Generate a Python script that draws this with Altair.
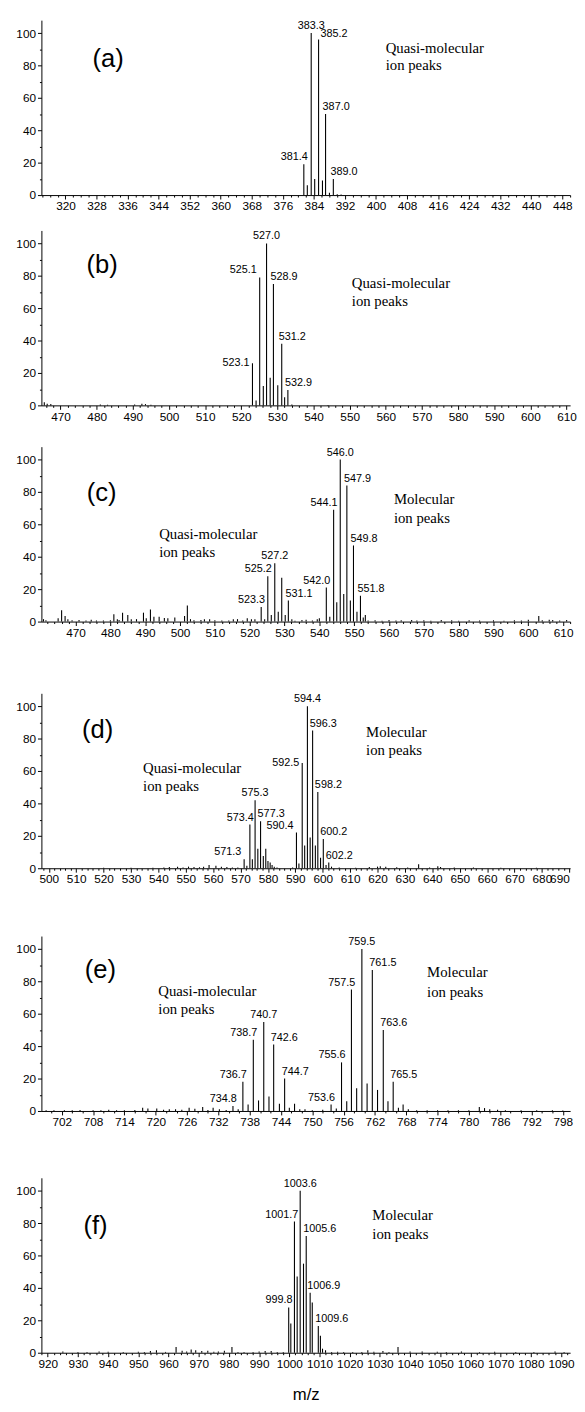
import altair as alt
import pandas as pd
import numpy as np

FONT = "Liberation Sans"
SERIF = "Liberation Serif"

# ---------------- panel (a) ----------------
a_mz = [381.4, 382.3, 383.3, 384.2, 385.2, 386.2, 387.0, 388.0, 389.0, 390.0, 391.0]
a_int = [19, 6, 100, 10, 96, 9, 50, 1.5, 10, 0.5, 0.3]
a_lab_mz = [381.4, 383.3, 385.2, 387.0, 389.0]
a_lab_pos = ["e", "c", "R", "s", "s"]
a_ann_text = ["(a)", "Quasi-molecular", "ion peaks"]
a_ann_x = [331, 402.5, 402.5]
a_ann_y = [84, 91, 80]
a_ann_kind = ["letter", "caption", "caption"]
a_xdom = [313.8, 450.0]

# ---------------- panel (b) ----------------
b_mz = [465.5, 466.3, 467.3, 481.0, 483.0, 490.5, 492.5, 493.5, 495.0,
        523.1, 524.1, 525.1, 526.1, 527.0, 528.0, 528.9, 530.1, 531.2, 532.0, 532.9, 534.0, 544.0]
b_int = [2, 1, 0.8, 0.6, 0.4, 0.6, 1.0, 0.8, 0.4,
         26, 3, 79, 12, 100, 17, 75, 12.5, 38, 5, 9.5, 0.5, 0.3]
b_lab_mz = [523.1, 525.1, 527.0, 528.9, 531.2, 532.9]
b_lab_pos = ["Lm", "L", "c", "s", "s", "s"]
b_ann_text = ["(b)", "Quasi-molecular", "ion peaks"]
b_ann_x = [481.5, 550.6, 550.6]
b_ann_y = [86.5, 75.5, 64.4]
b_ann_kind = ["letter", "caption", "caption"]
b_xdom = [464.7, 611.0]

# ---------------- panel (c) ----------------
c_mz = [460.8, 461.5, 465.0, 466.0, 467.0, 467.8, 469.0, 471.0, 473.0, 474.5, 476.0, 478.0, 480.0,
        481.0, 482.0, 482.5, 483.5, 485.0, 486.0, 487.5, 489.5, 490.3, 491.5, 492.5, 494.0, 495.5,
        496.5, 498.5, 501.3, 502.1, 503.0, 504.0, 506.0, 507.0, 508.5, 510.0, 512.0, 514.0, 515.3,
        516.5, 518.0, 519.3, 520.5, 521.5,
        523.3, 524.3, 525.2, 526.2, 527.2, 528.2, 529.2, 530.2, 531.1, 532.1, 533.0,
        535.0, 536.2, 538.0, 539.4, 540.0,
        542.0, 543.0, 544.1, 545.0, 546.0, 547.0, 547.9, 548.9, 549.8, 550.8, 551.8, 552.6, 553.2,
        554.0, 556.0, 558.0, 560.0, 562.0, 563.5, 566.5, 568.0, 570.0, 572.0, 575.0, 578.0, 580.0,
        583.0, 586.0, 590.0, 593.0, 596.0, 598.0, 600.0, 603.0, 604.0, 606.0, 607.0, 609.0, 611.0]
c_int = [1.5, 0.8, 2, 7, 3.5, 1.5, 0.8, 1, 0.6, 1.2, 0.7, 0.6, 0.8,
         4.5, 1.5, 1.0, 5.5, 4, 1.5, 1.5, 5.5, 2, 7.5, 3, 3, 2.2,
         2, 2.5, 3.5, 10, 1.5, 0.8, 1, 1.5, 1.5, 0.8, 0.6, 0.6, 1.5,
         1.5, 0.7, 2, 1.5, 1.5,
         9, 1.5, 28, 4, 36, 6, 27, 4, 13, 1.5, 0.5,
         1, 1.2, 0.6, 1.5, 2,
         21, 3, 69, 12, 100, 17, 84, 13, 47, 6, 16, 2.5, 4,
         0.6, 0.8, 0.5, 1, 0.6, 0.8, 1, 0.6, 0.8, 0.5, 1, 0.8, 0.5,
         0.8, 0.6, 0.8, 0.5, 0.8, 0.6, 1.2, 3.5, 0.8, 1.2, 1, 0.6, 1]
c_lab_mz = [523.3, 525.2, 527.2, 531.1, 542.0, 544.1, 546.0, 547.9, 549.8, 551.8]
c_lab_pos = ["e", "e", "c", "s", "e", "e", "c", "s", "s", "s"]
c_ann_text = ["(c)", "Quasi-molecular", "ion peaks", "Molecular", "ion peaks"]
c_ann_x = [477.5, 494.0, 494.0, 561.4, 561.4]
c_ann_y = [79, 54, 43, 75.6, 64]
c_ann_kind = ["letter", "caption", "caption", "caption", "caption"]
c_xdom = [460.2, 612.0]

# ---------------- panel (d) ----------------
d_mz = [520, 530, 538, 542, 544, 547, 549, 551, 553, 555, 556.5, 558.5, 561, 563, 565, 567, 569,
        571.3, 572.3, 573.4, 574.3, 575.3, 576.3, 577.3, 578.3, 579.2, 580.0, 580.8, 581.5, 582.3, 583.3,
        589.0, 590.4, 591.3, 592.5, 593.4, 594.4, 595.4, 596.3, 597.3, 598.2, 599.2, 600.2, 601.2,
        602.2, 603.2,
        606, 612, 617, 620, 621, 623, 627, 631, 635, 639, 642, 643, 648, 655, 665, 678]
d_int = [0.3, 0.3, 0.3, 0.5, 0.8, 1, 0.5, 1.0, 0.8, 0.6, 1, 2, 1.5, 1, 0.8, 0.4, 0.5,
         5.5, 1.5, 27, 5.5, 42, 12, 29, 7.5, 12, 4.5, 3.5, 2, 1, 0.5,
         0.5, 22, 3, 65, 14, 100, 19, 85, 14, 47, 6.5, 18, 2,
         3.5, 1,
         0.5, 0.3, 0.8, 1, 1.2, 1, 0.6, 0.4, 2.5, 0.4, 1.2, 0.8, 0.4, 0.5, 0.3, 0.3]
d_lab_mz = [571.3, 573.4, 575.3, 577.3, 590.4, 592.5, 594.4, 596.3, 598.2, 600.2, 602.2]
d_lab_pos = ["L", "e", "c", "s", "L", "Lm", "c", "s", "s", "s", "s"]
d_ann_text = ["(d)", "Quasi-molecular", "ion peaks", "Molecular", "ion peaks"]
d_ann_x = [517.8, 534.4, 534.4, 615.8, 615.8]
d_ann_y = [85, 62, 51, 84, 73]
d_ann_kind = ["letter", "caption", "caption", "caption", "caption"]
d_xdom = [497.3, 690.3]

# ---------------- panel (e) ----------------
e_mz = [699.0, 700.5, 702.5, 704.0, 705.5, 708.0, 709.5, 711.0, 712.5, 714.0, 716.0, 717.5, 718.5,
        720.2, 721.5, 722.6, 723.8, 725.0, 726.4, 727.5, 729.0, 730.0, 731.0, 732.2, 733.5,
        734.8, 735.8, 736.7, 737.7, 738.7, 739.7, 740.7, 741.7, 742.6, 743.7, 744.7, 745.6, 746.6,
        747.6, 748.6, 750.0, 752.0,
        753.6, 754.6, 755.6, 756.6, 757.5, 758.5, 759.5, 760.5, 761.5, 762.5, 763.6, 764.5, 765.5,
        766.5, 767.4, 768.4,
        770, 772, 774, 776, 778, 780, 782, 783, 784, 785.5, 787, 790, 793, 796, 798]
e_int = [0.5, 0.5, 0.4, 0.5, 0.6, 0.4, 0.5, 0.8, 0.5, 0.4, 0.6, 2, 1.5,
         1.5, 0.8, 1, 1, 0.8, 2, 1.3, 2.5, 0.6, 2, 1, 0.6,
         3, 1, 18, 4, 44, 6.5, 55, 9, 41, 4.5, 20, 2, 4.5,
         1, 1, 0.5, 0.8,
         4, 1.5, 30, 6, 75, 14, 100, 17, 87, 13, 50, 6, 18,
         2, 4, 1,
         0.5, 0.4, 0.4, 0.4, 0.4, 0.5, 2.5, 1.8, 1, 0.8, 0.5, 0.4, 0.4, 0.4, 0.3]
e_lab_mz = [734.8, 736.7, 738.7, 740.7, 742.6, 744.7, 753.6, 755.6, 757.5, 759.5, 761.5, 763.6, 765.5]
e_lab_pos = ["e", "e", "e", "c", "s", "s", "e", "e", "e", "c", "s", "s", "s"]
e_ann_text = ["(e)", "Quasi-molecular", "ion peaks", "Molecular", "ion peaks"]
e_ann_x = [709.4, 720.5, 720.5, 772.0, 772.0]
e_ann_y = [87, 74, 62.7, 85.5, 73.5]
e_ann_kind = ["letter", "caption", "caption", "caption", "caption"]
e_xdom = [698.1, 799.4]

# ---------------- panel (f) ----------------
f_mz = [925, 930, 933, 937, 940, 945, 950, 952, 954, 956, 959, 962.5, 964.5, 966, 967.5, 969, 971,
        973, 975, 976.5, 978.5, 981, 983, 985, 988, 990, 992, 994, 996, 998,
        999.8, 1000.5, 1001.7, 1002.6, 1003.6, 1004.7, 1005.6, 1006.9, 1007.6, 1009.6, 1010.3,
        1011.0, 1012.0,
        1014, 1016, 1018, 1021, 1024, 1026, 1028, 1031, 1033, 1036, 1040, 1044, 1049, 1052, 1057,
        1063, 1068, 1075, 1081, 1088, 1091]
f_int = [0.8, 0.4, 0.5, 0.8, 0.6, 0.4, 0.6, 0.4, 1, 1.5, 0.5, 3.5, 1.2, 0.8, 2, 1.5, 1,
         1.2, 0.6, 0.8, 1.2, 3.5, 0.5, 0.5, 0.5, 0.8, 1, 1, 0.5, 0.4,
         28, 18, 81, 47, 100, 55, 72, 37, 31, 16.5, 10.5,
         2.5, 1.5,
         0.5, 0.6, 0.5, 0.4, 0.5, 1.5, 0.6, 1, 0.5, 3.5, 0.8, 0.8, 0.6, 0.4, 0.7,
         0.4, 0.6, 0.5, 0.4, 0.8, 0.5]
f_lab_mz = [999.8, 1001.7, 1003.6, 1005.6, 1006.9, 1009.6]
f_lab_pos = ["e", "e", "c", "s", "s", "s"]
f_ann_text = ["(f)", "Molecular", "ion peaks"]
f_ann_x = [935.8, 1027.5, 1027.5]
f_ann_y = [78.4, 85, 73.3]
f_ann_kind = ["letter", "caption", "caption"]
f_xdom = [917.9, 1093.0]

# axis tick layout: (first major tick, major step)
a_major = (320, 8)
b_major = (470, 10)
c_major = (470, 10)
d_major = (500, 10)
e_major = (702, 6)
f_major = (920, 10)

Y_TOP = 108
W = 538
H = 178

LABEL_STYLE = {
    "c": dict(align="center", baseline="bottom", dx=0, dy=-2),
    "s": dict(align="left", baseline="bottom", dx=-3, dy=-2),
    "e": dict(align="right", baseline="bottom", dx=4, dy=-2),
    "L": dict(align="right", baseline="bottom", dx=-3, dy=-2),
    "Lm": dict(align="right", baseline="middle", dx=-3, dy=0),
    "R": dict(align="left", baseline="bottom", dx=2, dy=-1),
}


def panel(mz, inten, lab_mz, lab_pos, ann_text, ann_x, ann_y, ann_kind, xdom, major, x_title=None):
    peaks = pd.DataFrame({"mz": mz, "i": inten})
    lookup = dict(zip(mz, inten))
    labels = pd.DataFrame({
        "mz": lab_mz,
        "i": [lookup[m] for m in lab_mz],
        "t": [f"{m:.1f}" for m in lab_mz],
        "pos": lab_pos,
    })
    ann = pd.DataFrame({"mz": ann_x, "i": ann_y, "t": ann_text, "kind": ann_kind})

    xs = alt.Scale(domain=xdom, nice=False, zero=False)
    ys = alt.Scale(domain=[0, Y_TOP], nice=False)

    first = int(np.ceil(xdom[0] / 2.0) * 2)
    vals = list(range(first, int(np.floor(xdom[1])) + 1, 2))
    m0, step = major
    test = f"(datum.value - {m0}) % {step} == 0"
    xaxis_kw = dict(
        values=vals,
        labelExpr=f"{test} ? datum.label : ''",
        tickSize={"condition": {"test": test, "value": 4}, "value": 2},
        labelOverlap=False,
        format="d",
        grid=False,
        labelPadding=2,
    )
    if x_title:
        xaxis_kw.update(title=x_title, titlePadding=18)
    else:
        xaxis_kw.update(title="")
    xaxis = alt.Axis(**xaxis_kw)
    ytest = "datum.value % 20 == 0"
    yaxis = alt.Axis(
        values=list(range(0, 101, 10)),
        labelExpr=f"{ytest} ? datum.label : ''",
        tickSize={"condition": {"test": ytest, "value": 4}, "value": 2},
        labelOverlap=False,
        grid=False,
        title="",
        labelPadding=2,
    )

    X = alt.X("mz:Q", scale=xs, axis=xaxis)
    Y = alt.Y("i:Q", scale=ys, axis=yaxis)

    bars = alt.Chart(peaks).mark_rule(color="black", strokeWidth=1.1).encode(
        x=X, y=Y, y2=alt.datum(0),
    )
    layers = [bars]
    used = sorted(set(lab_pos))
    for k in used:
        st = LABEL_STYLE[k]
        layers.append(
            alt.Chart(labels).transform_filter(f"datum.pos == '{k}'").mark_text(
                font=FONT, fontSize=11, color="black", **st
            ).encode(x=X, y=Y, text="t:N")
        )
    layers.append(
        alt.Chart(ann).transform_filter("datum.kind == 'letter'").mark_text(
            font=FONT, fontSize=26, color="black", align="center", baseline="middle"
        ).encode(x=X, y=Y, text="t:N")
    )
    layers.append(
        alt.Chart(ann).transform_filter("datum.kind == 'caption'").mark_text(
            font=SERIF, fontSize=15, color="black", align="left", baseline="middle"
        ).encode(x=X, y=Y, text="t:N")
    )
    return alt.layer(*layers).properties(width=W, height=H)


pa = panel(a_mz, a_int, a_lab_mz, a_lab_pos, a_ann_text, a_ann_x, a_ann_y, a_ann_kind, a_xdom, a_major)
pb = panel(b_mz, b_int, b_lab_mz, b_lab_pos, b_ann_text, b_ann_x, b_ann_y, b_ann_kind, b_xdom, b_major)
pc = panel(c_mz, c_int, c_lab_mz, c_lab_pos, c_ann_text, c_ann_x, c_ann_y, c_ann_kind, c_xdom, c_major)
pdd = panel(d_mz, d_int, d_lab_mz, d_lab_pos, d_ann_text, d_ann_x, d_ann_y, d_ann_kind, d_xdom, d_major)
pe = panel(e_mz, e_int, e_lab_mz, e_lab_pos, e_ann_text, e_ann_x, e_ann_y, e_ann_kind, e_xdom, e_major)
pf = panel(f_mz, f_int, f_lab_mz, f_lab_pos, f_ann_text, f_ann_x, f_ann_y, f_ann_kind, f_xdom, f_major,
           x_title="m/z")

# nested stacks so that each gap between panels can differ
g1 = alt.vconcat(pa, pb, spacing=19)
g2 = alt.vconcat(g1, pc, spacing=25)
g3 = alt.vconcat(g2, pdd, spacing=56)
g4 = alt.vconcat(g3, pe, spacing=52)
chart = alt.vconcat(g4, pf, spacing=51).properties(
    padding={"left": 7, "top": 0, "right": 0, "bottom": 0},
    background="white",
).configure_view(strokeWidth=0, stroke="transparent").configure_axis(
    domainColor="black",
    tickColor="black",
    labelColor="black",
    labelFont=FONT,
    labelFontSize=12,
    titleFont=FONT,
    titleFontSize=17,
    titleFontWeight="normal",
    titleColor="black",
    domainWidth=1,
    tickWidth=1,
)

chart.save("out.html", embed_options={"renderer": "svg", "actions": False})
